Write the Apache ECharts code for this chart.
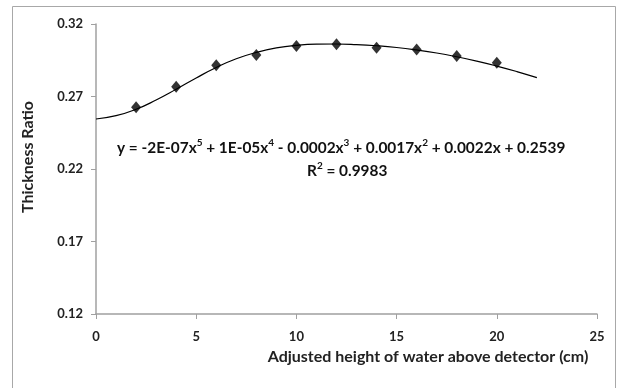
<!DOCTYPE html>
<html>
<head>
<meta charset="utf-8">
<script src="https://cdn.jsdelivr.net/npm/echarts@6/dist/echarts.min.js"></script>
<style>
  html, body { margin: 0; padding: 0; background: #fff; }
  #chart { width: 621px; height: 388px; }
</style>
</head>
<body>
<div id="chart"></div>
<script>
// measured points (height in cm, thickness ratio)
const heights = [2, 4, 6, 8, 10, 12, 14, 16, 18, 20];
const ratios = [0.2626, 0.2768, 0.2915, 0.2986, 0.3048, 0.3060, 0.3037, 0.3025, 0.2979, 0.2933];

// polynomial trendline
const trendX = [0, 1, 2, 3, 4, 5, 6, 7, 8, 9, 10, 11, 12, 13, 14, 15, 16, 17, 18, 19, 20, 21, 22];
const trendY = [0.2545, 0.2568, 0.2612, 0.2676, 0.2750, 0.2828, 0.2900, 0.2960, 0.3004, 0.3035, 0.3053, 0.3061, 0.3062, 0.3058, 0.3050, 0.3038, 0.3021, 0.3000, 0.2974, 0.2944, 0.2910, 0.2872, 0.2830];

const yTicks = [0.12, 0.17, 0.22, 0.27, 0.32];

// equation pieces: [text, isSuperscript]
const equationParts = [
  ["y = -2E-07x", false], ["5", true], [" + 1E-05x", false], ["4", true],
  [" - 0.0002x", false], ["3", true], [" + 0.0017x", false], ["2", true],
  [" + 0.0022x + 0.2539", false]
];
const r2Parts = [["R", false], ["2", true], [" = 0.9983", false]];

const font = "Lato, 'Open Sans', sans-serif";
const axisGray = "#a0a0a0";

function richText(parts) {
  return parts.map(([t, sup]) => (sup ? "{s|" + t + "}" : "{n|" + t + "}")).join("");
}
const richStyles = {
  n: { fontFamily: font, fontWeight: "bold", fontSize: 15.4, fill: "#111", verticalAlign: "bottom", lineHeight: 18 },
  s: { fontFamily: font, fontWeight: "bold", fontSize: 10, fill: "#111", verticalAlign: "top", lineHeight: 18 }
};

const chart = echarts.init(document.getElementById("chart"), null, { renderer: "canvas" });

chart.setOption({
  animation: false,
  backgroundColor: "#ffffff",
  grid: { left: 96, right: 24, top: 24, bottom: 74 },
  xAxis: {
    type: "value",
    min: 0,
    max: 25,
    interval: 5,
    name: "Adjusted height of water above detector (cm)",
    nameLocation: "middle",
    nameGap: 35,
    nameTextStyle: { color: "#222", fontFamily: font, fontWeight: "bold", fontSize: 16, padding: [0, 0, 0, 163] },
    axisLine: { onZero: false, lineStyle: { color: axisGray, width: 1.5 } },
    axisTick: { show: true, length: 5, lineStyle: { color: axisGray } },
    axisLabel: { color: "#222", fontFamily: font, fontWeight: "bold", fontSize: 13, margin: 16 },
    splitLine: { show: false }
  },
  yAxis: {
    type: "value",
    min: 0.12,
    max: 0.32,
    interval: 0.05,
    name: "Thickness Ratio",
    nameLocation: "middle",
    nameGap: 60,
    nameRotate: 90,
    nameTextStyle: { color: "#222", fontFamily: font, fontWeight: "bold", fontSize: 16, padding: [0, 0, 0, 24] },
    axisLine: { show: true, lineStyle: { color: axisGray, width: 1.5 } },
    axisTick: { show: true, length: 5, lineStyle: { color: axisGray } },
    axisLabel: {
      color: "#222", fontFamily: font, fontWeight: "bold", fontSize: 13, margin: 13,
      formatter: (v) => {
        const t = yTicks.find((k) => Math.abs(k - v) < 1e-6);
        return t !== undefined ? t.toFixed(2) : "";
      }
    },
    splitLine: { show: false }
  },
  graphic: [
    {
      type: "rect",
      shape: { x: 12.5, y: 6.5, width: 603, height: 400 },
      style: { fill: "none", stroke: "#a8a8a8", lineWidth: 1 },
      silent: true
    },
    {
      type: "text",
      left: 117,
      top: 138,
      style: { text: richText(equationParts), rich: richStyles }
    },
    {
      type: "text",
      left: 307,
      top: 161,
      style: { text: richText(r2Parts), rich: richStyles }
    }
  ],
  series: [
    {
      name: "Trendline",
      type: "line",
      data: trendX.map((x, i) => [x, trendY[i]]),
      smooth: true,
      showSymbol: false,
      lineStyle: { color: "#000", width: 1.2 },
      z: 2
    },
    {
      name: "Measured",
      type: "scatter",
      data: heights.map((x, i) => [x, ratios[i]]),
      symbol: "diamond",
      symbolSize: [10, 12],
      itemStyle: { color: "#000" },
      z: 3
    }
  ]
});
</script>
</body>
</html>
